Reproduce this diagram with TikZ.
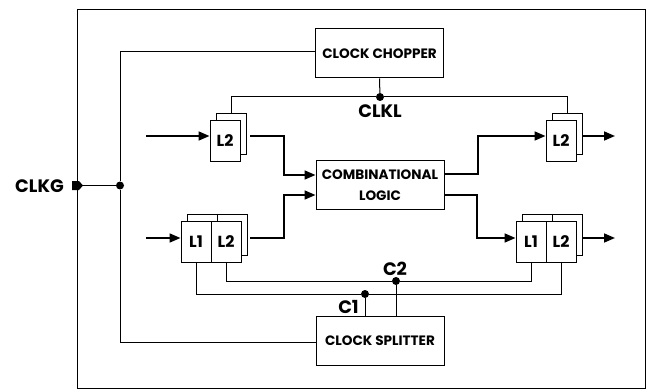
\documentclass[tikz,border=0pt]{standalone}
\usepackage{fontspec}
\setmainfont{Poppins}
\usetikzlibrary{arrows.meta}
\tikzset{
  wire/.style={line width=1pt},
  sig/.style={line width=1.7pt,-{Triangle[length=11pt,width=9pt]}},
  blk/.style={draw,line width=1pt,fill=white,minimum width=128pt,minimum height=49pt,inner sep=0pt,align=center,font=\fontsize{13.6}{21}\selectfont\bfseries},
  sheet/.style={draw,line width=1pt,fill=white,minimum width=30pt,minimum height=41pt,inner sep=0pt},
  latch/.style={sheet,font=\fontsize{16}{16}\selectfont\bfseries},
  lbl/.style={inner sep=0pt,font=\fontsize{18}{18}\selectfont\bfseries},
  jdot/.style={circle,fill,inner sep=0pt,minimum size=8pt}
}
\begin{document}
\begin{tikzpicture}[x=1pt,y=-1pt]
\useasboundingbox (0,0) rectangle (647,390);
\draw[wire] (77,10) rectangle (645,388);
% blocks
\node[blk] (chop) at (379.5,53.5) {CLOCK CHOPPER};
\node[blk] (comb) at (380,185) {COMBINATIONAL\\LOGIC};
\node[blk] (split) at (380,340.5) {CLOCK SPLITTER};
% latches, back sheet first
\node[sheet] (tlb) at (231,134) {};
\node[latch] (tl) at (225,141) {L2};
\node[sheet] (trb) at (567,134) {};
\node[latch] (tr) at (561,141) {L2};
\node[sheet] (ll1b) at (202,234.5) {};
\node[sheet] (ll2b) at (232,234.5) {};
\node[latch] (ll1) at (196,241.5) {L1};
\node[latch] (ll2) at (226,241.5) {L2};
\node[sheet] (lr1b) at (537,234.5) {};
\node[sheet] (lr2b) at (567,234.5) {};
\node[latch] (lr1) at (531,241.5) {L1};
\node[latch] (lr2) at (561,241.5) {L2};
% clock input
\node[lbl,anchor=east] (clkg) at (64,186) {CLKG};
\fill (72,181) -- (79,181) -- (83,185.5) -- (79,190) -- (72,190) -- cycle;
\coordinate (gin) at (82,185.5);
\node[jdot] (j0) at (120,185.5) {};
\draw[wire] (gin) -- (j0);
\draw[wire] ([yshift=2pt]chop.west) -| (j0) |- ([yshift=-1.5pt]split.west);
% CLKL
\node[jdot] (k) at (380,97) {};
\node[lbl] (clkl) at (380,111) {CLKL};
\draw[wire] (chop.south) -- (k);
\draw[wire] (tlb.north) |- (k) -| (trb.north);
% C1, C2
\node[jdot] (c1) at (365,294) {};
\node[jdot] (c2) at (396,281) {};
\node[lbl] (c1l) at (348.5,307) {C1};
\node[lbl] (c2l) at (395,268.5) {C2};
\draw[wire] (ll1.south) |- (c1) -| (lr2.south);
\draw[wire] (ll2.south) |- (c2) -| (lr1.south);
\draw[wire] (c1) -- (c1 |- split.north);
\draw[wire] (c2) -- (c2 |- split.north);
% data path
\coordinate (in1) at (146,136);
\coordinate (in2) at (146,238);
\coordinate (o1) at (250,136);
\coordinate (o2) at (250,238);
\coordinate (o3) at (582,136);
\coordinate (o4) at (582,238);
\coordinate (e3) at (615,136);
\coordinate (e4) at (615,238);
\draw[sig] (in1) -- (in1 -| tl.west);
\draw[sig] (in2) -- (in2 -| ll1.west);
\draw[sig] (o1) -- (284,136) |- ([yshift=10pt]comb.west);
\draw[sig] (o2) -- (284,238) |- ([yshift=-10pt]comb.west);
\draw[sig] ([yshift=11pt]comb.east) -- (478,174) |- ([yshift=5pt]tr.west);
\draw[sig] ([yshift=-10pt]comb.east) -- (477,195) |- ([yshift=3.5pt]lr1.west);
\draw[sig] (o3) -- (e3);
\draw[sig] (o4) -- (e4);
\end{tikzpicture}
\end{document}
